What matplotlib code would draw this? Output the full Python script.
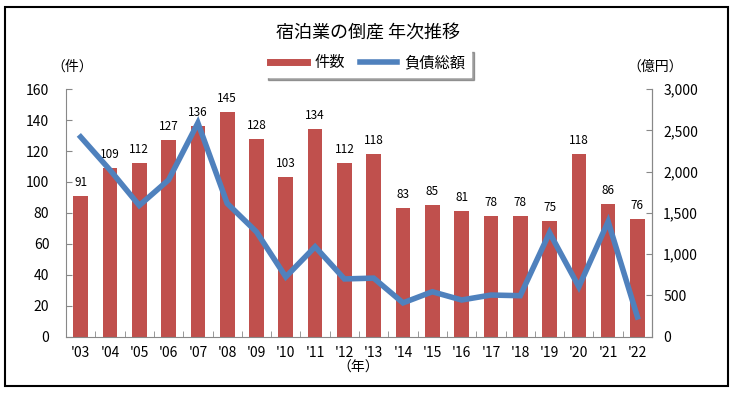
import matplotlib
matplotlib.use("Agg")
import matplotlib.pyplot as plt
from matplotlib.lines import Line2D
from matplotlib.patches import Rectangle
from matplotlib.ticker import FuncFormatter

plt.rcParams['font.family'] = ['Noto Sans CJK JP', 'DejaVu Sans']

# データ
years = ["'03", "'04", "'05", "'06", "'07", "'08", "'09", "'10", "'11", "'12",
         "'13", "'14", "'15", "'16", "'17", "'18", "'19", "'20", "'21", "'22"]
counts = [91, 109, 112, 127, 136, 145, 128, 103, 134, 112,
          118, 83, 85, 81, 78, 78, 75, 118, 86, 76]
debts = [2420, 2020, 1590, 1900, 2590, 1615, 1270, 725, 1090, 700,
         710, 410, 545, 445, 505, 497, 1260, 605, 1395, 240]

RED = "#C0504D"
BLUE = "#4F81BD"
GRAY = "#888888"

fig = plt.figure(figsize=(7.36, 3.96), dpi=100)
ax = fig.add_axes([0.0897, 0.1497, 0.7963, 0.6253])
ax2 = ax.twinx()

x = list(range(len(years)))

# 件数（棒グラフ）
bars = ax.bar(x, counts, width=0.5, color=RED, zorder=2)
for xi, c in zip(x, counts):
    ax.annotate(str(c), (xi, c), xytext=(0, 5), textcoords="offset points",
                ha="center", va="bottom", fontsize=8.5)

# 負債総額（折れ線）
ax2.plot(x, debts, color=BLUE, lw=4, solid_joinstyle="miter", zorder=3)

ax.set_xlim(-0.5, len(years) - 0.5)
ax.set_ylim(0, 160)
ax.set_yticks(range(0, 161, 20))
ax2.set_ylim(0, 3000)
ax2.set_yticks(range(0, 3001, 500))
ax2.yaxis.set_major_formatter(FuncFormatter(lambda v, p: f"{int(v):,}"))

ax.set_xticks(x)
ax.set_xticklabels(years)
ax.set_xticks([i + 0.5 for i in range(len(years) - 1)], minor=True)
ax.tick_params(axis="x", which="major", length=0, labelsize=10, pad=7)
ax.tick_params(axis="x", which="minor", direction="in", length=4, color=GRAY)
ax.tick_params(axis="y", direction="in", length=4, color=GRAY, labelsize=10, pad=12)
ax2.tick_params(axis="y", direction="in", length=4, color=GRAY, labelsize=10, pad=8)

for a in (ax, ax2):
    a.spines["top"].set_visible(False)
    for s in ("left", "right", "bottom"):
        a.spines[s].set_color(GRAY)
ax2.spines["bottom"].set_visible(False)
ax2.spines["left"].set_visible(False)

# タイトル・単位
fig.text(0.5, 1 - 33 / 396, "宿泊業の倒産 年次推移", ha="center", va="center", fontsize=13)
fig.text(72 / 736, 1 - 67 / 396, "（件）", ha="center", va="center", fontsize=10)
fig.text(655 / 736, 1 - 67 / 396, "（億円）", ha="center", va="center", fontsize=10)
fig.text(358 / 736, 1 - 368 / 396, "（年）", ha="center", va="center", fontsize=10)

# 凡例
handles = [Line2D([0], [0], color=RED, lw=5), Line2D([0], [0], color=BLUE, lw=4)]
leg = fig.legend(handles, ["件数", "負債総額"], loc="center", ncol=2,
                 bbox_to_anchor=(368 / 736, 1 - 63 / 396), frameon=True,
                 fancybox=False, shadow=True, fontsize=11, handlelength=2.4,
                 handletextpad=0.5, columnspacing=1.0, borderpad=0.35)
leg.get_frame().set_edgecolor("white")

# 外枠
fig.patches.append(Rectangle((5 / 736, 1 - 386 / 396), 723 / 736, 379 / 396,
                             transform=fig.transFigure, fill=False,
                             edgecolor="black", lw=1.5))

fig.savefig("out.png", dpi=100)
